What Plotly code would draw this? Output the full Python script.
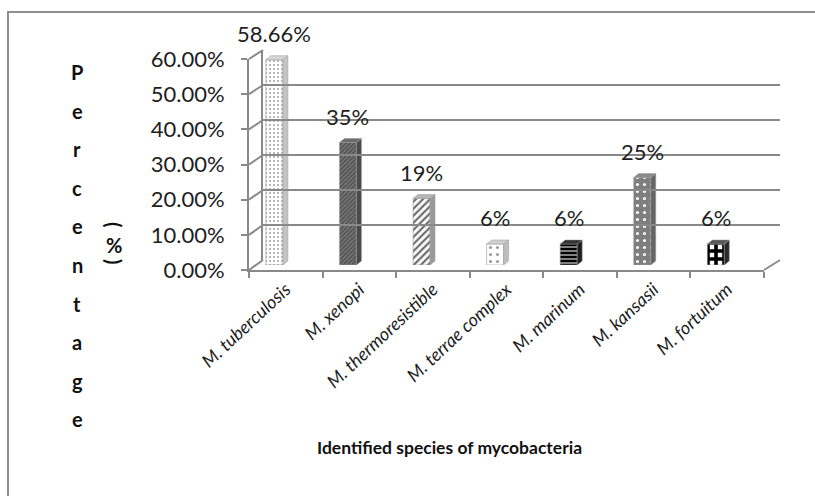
import plotly.graph_objects as go

# Share of each identified mycobacterial species
species = [
    "M. tuberculosis",
    "M. xenopi",
    "M. thermoresistible",
    "M. terrae complex",
    "M. marinum",
    "M. kansasii",
    "M. fortuitum",
]
share = [0.5866, 0.35, 0.19, 0.06, 0.06, 0.25, 0.06]
y_ticks = [0.0, 0.1, 0.2, 0.3, 0.4, 0.5, 0.6]

# Fill styles for the column faces: (pattern shape, fg, bg, size, solidity, side colour, top colour)
faces = [
    (".", "#a8a8a8", "#ffffff", 4, 0.22, "#c4c4c4", "#d6d6d6"),
    ("/", "#4e4e4e", "#7a7a7a", 3, 0.5, "#4a4a4a", "#6c6c6c"),
    ("/", "#6e6e6e", "#ffffff", 5, 0.45, "#9a9a9a", "#b4b4b4"),
    (".", "#9a9a9a", "#ffffff", 7, 0.15, "#bdbdbd", "#d0d0d0"),
    ("-", "#000000", "#ffffff", 4, 0.75, "#1e1e1e", "#333333"),
    (".", "#ffffff", "#7e7e7e", 7, 0.15, "#666666", "#8a8a8a"),
    ("+", "#000000", "#ffffff", 8, 0.7, "#2a2a2a", "#555555"),
]

W, H = 815, 496
FONT = "Lato"
TXT = "#1e1e1e"
LINE = "#898989"


def fx(p):
    return p / W


def fy(p):
    return 1 - p / H


# pixel frames of the three planes of the 3-D box
BAR = dict(x0=256, x1=771, y0=265, y1=55)      # mid depth (columns)
FRONT = dict(x0=249, x1=764, y0=270, y1=59)    # front axis
BACK = dict(x0=263, x1=780, y0=260, y1=50)     # back wall

n = len(species)
x_rng = [-0.25, n - 0.25]
px_per_cat = (BAR["x1"] - BAR["x0"]) / (x_rng[1] - x_rng[0])
px_per_val = (BAR["y0"] - BAR["y1"]) / 0.6
bar_w = 17 / px_per_cat
depth_dx = 5 / px_per_cat
depth_dy = 4 / px_per_val

fig = go.Figure()

# 3-D side and top faces of each column
for i, v in enumerate(share):
    _, _, _, _, _, side_c, top_c = faces[i]
    xr = i + bar_w / 2
    xl = i - bar_w / 2
    fig.add_trace(go.Scatter(
        x=[xr, xr + depth_dx, xr + depth_dx, xr, xr],
        y=[0, depth_dy, v + depth_dy, v, 0],
        fill="toself", fillcolor=side_c, mode="lines",
        line=dict(color="#9a9a9a", width=0.5),
        hoverinfo="skip", showlegend=False))
    fig.add_trace(go.Scatter(
        x=[xl, xr, xr + depth_dx, xl + depth_dx, xl],
        y=[v, v, v + depth_dy, v + depth_dy, v],
        fill="toself", fillcolor=top_c, mode="lines",
        line=dict(color="#9a9a9a", width=0.5),
        hoverinfo="skip", showlegend=False))

# front faces of the columns, one trace per species
for i, v in enumerate(share):
    shp, fg, bg, size, sol, _, _ = faces[i]
    fig.add_trace(go.Bar(
        x=[i], y=[v], width=bar_w,
        marker=dict(
            color=bg,
            line=dict(color="#9a9a9a", width=0.6),
            pattern=dict(shape=shp, fgcolor=fg, bgcolor=bg, size=size,
                         solidity=sol, fillmode="replace"),
        ),
        hoverinfo="skip", showlegend=False))

# carriers for the front axes and the back wall
fig.add_trace(go.Scatter(x=[0], y=[0], xaxis="x2", yaxis="y2", mode="markers",
                         marker=dict(opacity=0), hoverinfo="skip", showlegend=False))
fig.add_trace(go.Scatter(x=[0], y=[0], xaxis="x3", yaxis="y3", mode="markers",
                         marker=dict(opacity=0), hoverinfo="skip", showlegend=False))


def value_label(v):
    pct = v * 100
    return f"{pct:.0f}%" if abs(pct - round(pct)) < 1e-9 else f"{pct:.2f}%"


annotations = []
for i, v in enumerate(share):
    annotations.append(dict(
        x=i, y=v, xref="x", yref="y", text=value_label(v), showarrow=False,
        yshift=26, xanchor="center", yanchor="middle",
        font=dict(family=FONT, size=22, color=TXT)))

# vertical axis title: "Percentage" stacked letter by letter, with "(%)"
for k, ch in enumerate("Percentage"):
    annotations.append(dict(
        x=fx(77), y=fy(72 + k * 38.6), xref="paper", yref="paper", text=ch,
        showarrow=False, xanchor="center", yanchor="middle",
        font=dict(family=FONT, size=20, color="#111111", weight="bold")))
for txt, py, ang in [("(", 225, 90), ("%", 245, 0), (")", 262, 90)]:
    annotations.append(dict(
        x=fx(114), y=fy(py), xref="paper", yref="paper", text=txt, textangle=ang,
        showarrow=False, xanchor="center", yanchor="middle",
        font=dict(family=FONT, size=20, color="#111111", weight="bold")))

annotations.append(dict(
    x=fx(449), y=fy(447), xref="paper", yref="paper",
    text="Identified species of mycobacteria", showarrow=False,
    xanchor="center", yanchor="middle",
    font=dict(family=FONT, size=17.5, color="#111111", weight="bold")))

# side wall and floor edges joining the front axis to the back wall
shapes = []
for t in y_ticks:
    yf = FRONT["y0"] - t / 0.6 * (FRONT["y0"] - FRONT["y1"])
    yb = BACK["y0"] - t / 0.6 * (BACK["y0"] - BACK["y1"])
    shapes.append(dict(type="line", xref="paper", yref="paper",
                       x0=fx(FRONT["x0"]), y0=fy(yf), x1=fx(BACK["x0"]), y1=fy(yb),
                       line=dict(color=LINE, width=2), layer="below"))
shapes.append(dict(type="line", xref="paper", yref="paper",
                   x0=fx(FRONT["x1"]), y0=fy(FRONT["y0"]), x1=fx(BACK["x1"]), y1=fy(BACK["y0"]),
                   line=dict(color=LINE, width=2), layer="below"))
# chart frame
shapes.append(dict(type="rect", xref="paper", yref="paper",
                   x0=fx(8), y0=fy(12), x1=fx(W + 20), y1=fy(H + 20),
                   line=dict(color="#8e8e8e", width=2), layer="below"))

fig.update_layout(
    template="none",
    width=W, height=H,
    margin=dict(l=0, r=0, t=0, b=0, pad=0),
    paper_bgcolor="white", plot_bgcolor="rgba(0,0,0,0)",
    barmode="overlay",
    annotations=annotations,
    shapes=shapes,
    xaxis=dict(domain=[fx(BAR["x0"]), fx(BAR["x1"])], range=x_rng,
               visible=False, fixedrange=True, automargin=False),
    yaxis=dict(domain=[fy(BAR["y0"]), fy(BAR["y1"])], range=[0, 0.6],
               visible=False, fixedrange=True, automargin=False),
    xaxis2=dict(domain=[fx(FRONT["x0"]), fx(FRONT["x1"])], range=[-0.5, n - 0.5],
                anchor="y2", showgrid=False, zeroline=False, automargin=False,
                showline=True, linecolor=LINE, linewidth=2,
                tickmode="array", tickvals=list(range(n)), ticktext=species,
                ticks="", tickangle=-43,
                tickfont=dict(family=FONT, size=18, color=TXT, style="italic"),
                minor=dict(tickmode="array", tickvals=[k - 0.5 for k in range(n + 1)],
                           ticks="outside", ticklen=6, tickwidth=2, tickcolor=LINE,
                           showgrid=False),
                fixedrange=True),
    yaxis2=dict(domain=[fy(FRONT["y0"]), fy(FRONT["y1"])], range=[0, 0.6],
                anchor="x2", showgrid=False, zeroline=False, automargin=False,
                showline=True, linecolor=LINE, linewidth=2,
                tickmode="array", tickvals=y_ticks, tickformat=".2%",
                ticks="outside", ticklen=6, tickwidth=2, tickcolor=LINE,
                ticklabelstandoff=12,
                tickfont=dict(family=FONT, size=22, color=TXT),
                fixedrange=True),
    xaxis3=dict(domain=[fx(BACK["x0"]), fx(BACK["x1"])], range=[0, 1],
                anchor="y3", visible=False, fixedrange=True, automargin=False),
    yaxis3=dict(domain=[fy(BACK["y0"]), fy(BACK["y1"])], range=[0, 0.6],
                anchor="x3", showgrid=True, gridcolor=LINE, gridwidth=2,
                zeroline=False, showline=True, linecolor=LINE, linewidth=2,
                tickmode="array", tickvals=y_ticks, showticklabels=False,
                ticks="", fixedrange=True, automargin=False),
)

fig.write_html("out.html")
